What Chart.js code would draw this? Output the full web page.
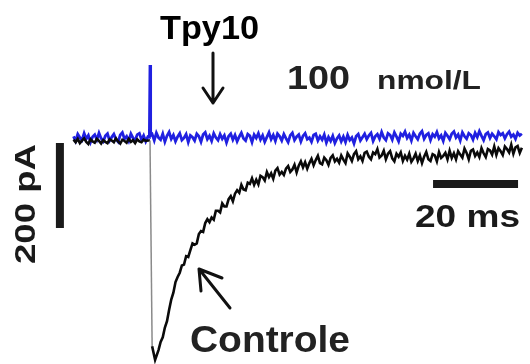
<!DOCTYPE html>
<html>
<head>
<meta charset="utf-8">
<script src="https://cdn.jsdelivr.net/npm/chart.js@4.4.1/dist/chart.umd.min.js"></script>
<style>
    html, body { margin: 0; padding: 0; background: #fff; }
    #wrap { width: 530px; height: 364px; }
</style>
</head>
<body>
<div id="wrap"><canvas id="trace" width="530" height="364"></canvas></div>
<script>
// time in ms (0 = stimulus), current in pA, sampled every 0.5 ms
var sampleStep = 0.5;

// Tpy10 trace
var bluePreStart = -18;
var bluePre = [4, -7, 9, 1, -5, 11, -2, 6, -10, 3, 8, -4, 12, -1, -8, 5, 10, -6, 2, 9,
    -3, -9, 7, 13, -2, 4, -7, 10, 0, -5, 8, 11, -4, 6, -8, 3];
var blueSpikeTimes = [-0.15, 0, 0.15];
var blueSpike = [2, 172, 6];
var bluePostStart = 0.5;
var bluePost = [9, -6, 12, 1, -4, 10, -9, 5, 14, -2,
    7, -8, 3, 11, -5, 0, 9, -10, 6, 2,
    -6, 10, 4, -9, 8, 13, -3, 5, -7, 11,
    1, -5, 9, -2, 6, -11, 4, 10, -4, 7,
    -8, 3, 12, -1, -6, 9, 5, -10, 8, 0,
    11, -4, 6, -9, 2, 13, -3, 7, -7, 10,
    4, -6, 9, -1, -10, 6, 12, -5, 3, 8,
    -8, 5, 11, -3, 1, -9, 7, 10, -6, 4,
    -4, 8, -11, 2, -7, 5, -12, -1, 6, -8,
    3, -10, 7, -5, 1, -13, 4, 9, -6, 2,
    10, -3, 6, 12, -7, 4, 9, -2, 14, 1,
    -5, 11, 7, -4, 13, 3, -8, 10, 5, 15,
    0, 8, -6, 12, 4, -3, 10, 16, -2, 7,
    11, -5, 9, 3, 14, -1, 6, -7, 12, 5,
    -3, 10, 15, 1, 8, -6, 13, 4, -2, 11,
    7, -4, 12, 2, 16, 5, -5, 9, 13, 0,
    10, 4, -3, 14, 7, 11, -1, 9, 15, 3,
    8, -2, 12, 6, 10];

// Controle trace
var blackPreStart = -18;
var blackPre = [-4, -10, -2, -12, -6, -1, -9, -14, -3, -8, -11, -2, -7, -13, -5, -9, -12, -3, -6, -10,
    -1, -8, -13, -4, -7, -11, -2, -9, -5, -12, -3, -8, -10, -4, -7, -6];
var blackDropTimes = [0, 0.5, 1.2];
var blackDrop = [-6, -490, -522];
var blackPostStart = 2;
var blackPost = [-499, -480, -469, -446, -431, -404, -380, -364, -339, -327,
    -317, -300, -298, -278, -280, -264, -248, -251, -248, -226,
    -219, -221, -200, -191, -198, -187, -192, -171, -171, -175,
    -154, -161, -161, -144, -137, -149, -131, -123, -129, -110,
    -121, -123, -105, -108, -95, -110, -98, -109, -89, -92,
    -100, -80, -92, -83, -96, -77, -71, -86, -80, -87,
    -72, -66, -80, -74, -63, -81, -65, -55, -69, -57,
    -72, -59, -49, -64, -52, -42, -59, -62, -46, -52,
    -63, -47, -41, -55, -49, -58, -41, -51, -59, -36,
    -44, -54, -38, -31, -50, -43, -54, -35, -32, -44,
    -50, -34, -38, -26, -46, -41, -30, -50, -37, -31,
    -48, -55, -37, -44, -34, -54, -42, -51, -37, -56,
    -48, -37, -54, -41, -59, -44, -33, -50, -54, -38,
    -41, -55, -33, -47, -42, -35, -50, -30, -47, -36,
    -50, -31, -39, -46, -25, -35, -50, -30, -27, -42,
    -34, -45, -24, -36, -45, -26, -29, -39, -20, -40,
    -24, -31, -40, -20, -26, -34, -16, -37, -22, -19,
    -35, -23];

// scale bars: 200 pA and 20 ms
var vBarTimes = [-21.2, -21.2];
var vBarCurrent = [-12, -212];
var hBarTimes = [66.6, 86.6];
var hBarCurrent = [-108, -108];

// sampled values -> {x, y}
function sampled(start, values) {
    return values.map(function(v, i) { return {x: start + i * sampleStep, y: v}; });
}

function toPoints(xs, ys) {
    return xs.map(function(x, i) { return {x: x, y: ys[i]}; });
}

var bluePoints = sampled(bluePreStart, bluePre)
    .concat(toPoints(blueSpikeTimes, blueSpike))
    .concat(sampled(bluePostStart, bluePost));
var blackPoints = sampled(blackPreStart, blackPre)
    .concat(toPoints(blackDropTimes, blackDrop))
    .concat(sampled(blackPostStart, blackPost));

// draw a text squeezed/stretched to a given length
function fitText(ctx, str, x, y, size, len, color, angle) {
    ctx.save();
    ctx.font = "bold " + size + "px 'Liberation Sans', Arial, sans-serif";
    ctx.fillStyle = color;
    ctx.textBaseline = "alphabetic";
    ctx.translate(x, y);
    if (angle) ctx.rotate(angle);
    var w = ctx.measureText(str).width;
    ctx.scale(len / w, 1);
    ctx.fillText(str, 0, 0);
    ctx.restore();
}

function arrow(ctx, tip, tail, wing1, wing2) {
    ctx.save();
    ctx.strokeStyle = "#111";
    ctx.lineWidth = 3;
    ctx.lineCap = "round";
    ctx.lineJoin = "round";
    ctx.beginPath();
    ctx.moveTo(tail[0], tail[1]);
    ctx.lineTo(tip[0], tip[1]);
    ctx.moveTo(wing1[0], wing1[1]);
    ctx.lineTo(tip[0], tip[1]);
    ctx.lineTo(wing2[0], wing2[1]);
    ctx.stroke();
    ctx.restore();
}

var labels = {
    id: "labels",
    afterDraw: function(chart) {
        var ctx = chart.ctx;
        fitText(ctx, "Tpy10", 160, 39, 33, 99, "#000");
        arrow(ctx, [213, 103], [213, 53], [203, 88], [223, 88]);
        fitText(ctx, "100", 287, 89, 33, 63, "#222");
        fitText(ctx, "nmol/L", 377, 89, 26, 104, "#222");
        fitText(ctx, "200 pA", 35, 264, 29, 120, "#1a1a1a", -Math.PI / 2);
        fitText(ctx, "20 ms", 415, 227, 31, 105, "#1a1a1a");
        arrow(ctx, [199, 269], [230, 308], [222, 278], [201, 291]);
        fitText(ctx, "Controle", 190, 352, 37, 160, "#222");
    }
};

new Chart(document.getElementById("trace"), {
    type: "line",
    data: {
        datasets: [
            {
                data: toPoints(vBarTimes, vBarCurrent),
                borderColor: "#1a1a1a",
                borderWidth: 8,
                borderCapStyle: "butt"
            },
            {
                data: toPoints(hBarTimes, hBarCurrent),
                borderColor: "#1a1a1a",
                borderWidth: 8,
                borderCapStyle: "butt"
            },
            {
                data: blackPoints,
                borderColor: "#0a0a0a",
                borderWidth: 2.6,
                segment: {
                    // the fast drop looks like a thin grey line
                    borderColor: function(c) { return Math.abs(c.p1.y - c.p0.y) > 150 ? "#8a8a8a" : undefined; },
                    borderWidth: function(c) { return Math.abs(c.p1.y - c.p0.y) > 150 ? 1.5 : undefined; }
                }
            },
            {
                data: bluePoints,
                borderColor: "#2020e0",
                borderWidth: 2.8
            }
        ]
    },
    options: {
        responsive: false,
        animation: false,
        layout: { padding: 0 },
        elements: { point: { radius: 0 }, line: { tension: 0 } },
        plugins: { legend: { display: false }, tooltip: { enabled: false } },
        scales: {
            x: { type: "linear", display: false, min: -150 / 4.25, max: 380 / 4.25 },
            y: { type: "linear", display: false, min: -226 / 0.425, max: 138 / 0.425 }
        }
    },
    plugins: [labels]
});
</script>
</body>
</html>
